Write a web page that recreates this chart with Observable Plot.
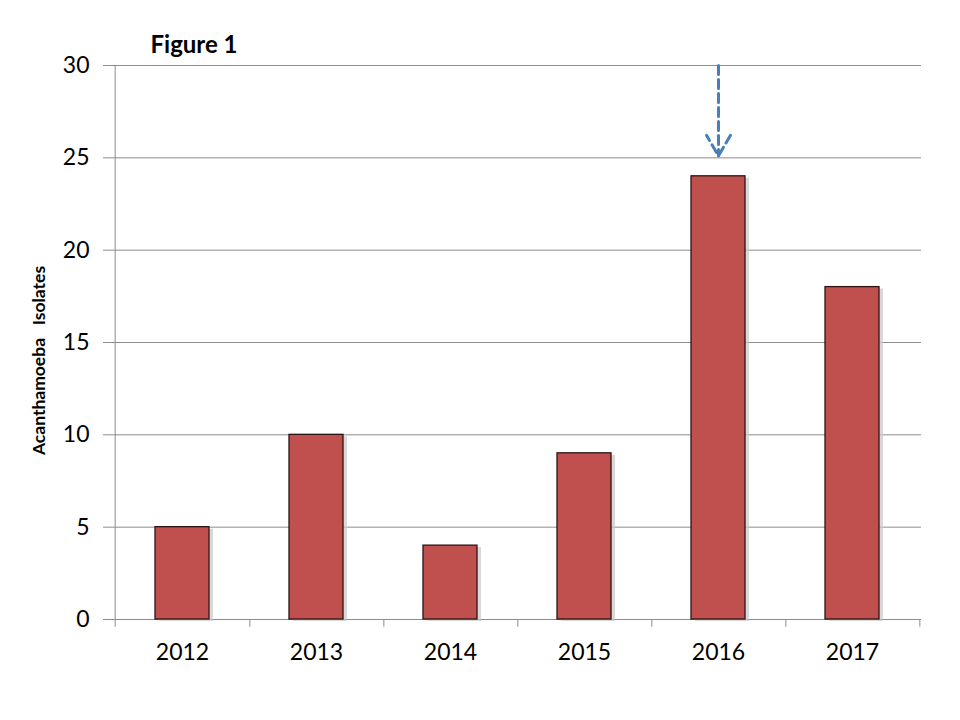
<!DOCTYPE html>
<html>
<head>
<meta charset="utf-8">
<script src="https://cdn.jsdelivr.net/npm/d3@7"></script>
<script src="https://cdn.jsdelivr.net/npm/@observablehq/plot@0.6"></script>
<style>
  html, body { margin: 0; padding: 0; background: #fff; }
  #chart svg { display: block; }
</style>
</head>
<body>
<div id="chart"></div>
<script>
const years = ["2012", "2013", "2014", "2015", "2016", "2017"];
const isolates = [5, 10, 4, 9, 24, 18];
const yTicks = [0, 5, 10, 15, 20, 25, 30];
const arrowYear = "2016";
const arrowFrom = 30;
const arrowTo = 25.1;
const titleText = "Figure 1";
const yLabel = "Acanthamoeba\u00a0\u00a0\u00a0Isolates";

const data = years.map((y, i) => ({year: y, value: isolates[i]}));

const W = 960, H = 720, ML = 113, MR = 39, MT = 65, MB = 101;
const step = (W - ML - MR) / years.length;
const font = "Lato, 'Open Sans', sans-serif";

const chart = Plot.plot({
  width: W, height: H,
  marginLeft: ML, marginRight: MR, marginTop: MT, marginBottom: MB,
  style: {fontFamily: font, color: "#000", background: "#fff"},
  x: {domain: years, paddingInner: 0.6, paddingOuter: 0.3, label: null},
  y: {domain: [0, 30], label: null},
  marks: [
    Plot.gridY(yTicks, {stroke: "#8c8c8c", strokeOpacity: 1, strokeWidth: 1}),
    Plot.axisY(yTicks, {tickSize: 10, tickPadding: 14, fontSize: 23, stroke: "#8c8c8c", fill: "#000", label: null}),
    Plot.axisX({tickSize: 0, tickPadding: 24, fontSize: 23, fill: "#000", label: null}),
    // left axis line
    Plot.ruleX([years[0]], {x: d => d, y1: 0, y2: 30, dx: -step / 2, stroke: "#8c8c8c"}),
    // x tick marks at band boundaries
    Plot.ruleX(years, {x: d => d, y1: 0, y2: -0.42, dx: step / 2, stroke: "#8c8c8c"}),
    Plot.ruleX([years[0]], {x: d => d, y1: 0, y2: -0.42, dx: -step / 2, stroke: "#8c8c8c"}),
    // bar shadow
    Plot.barY(data, {x: "year", y: "value", fill: "#c8c8c8", fillOpacity: 0.7, dx: 4, dy: 2}),
    Plot.barY(data, {x: "year", y: "value", fill: "#C0504D", stroke: "#2b1414", strokeWidth: 1.3}),
    Plot.arrow([{year: arrowYear}], {
      x1: "year", x2: "year", y1: () => arrowFrom, y2: () => arrowTo,
      stroke: "#4A7EBB", strokeWidth: 3, strokeDasharray: "9,5", headLength: 12, bend: 0
    }),
    Plot.text([titleText], {frameAnchor: "top-left", dx: 37, dy: -30, text: d => d, fontSize: 24, fontWeight: "bold", textAnchor: "start", fill: "#000"}),
    Plot.text([yLabel], {frameAnchor: "left", dx: -74, dy: 18, rotate: -90, textAnchor: "middle", text: d => d, fontSize: 17.5, fontWeight: "bold", fill: "#000"})
  ]
});
document.getElementById("chart").appendChild(chart);
</script>
</body>
</html>
